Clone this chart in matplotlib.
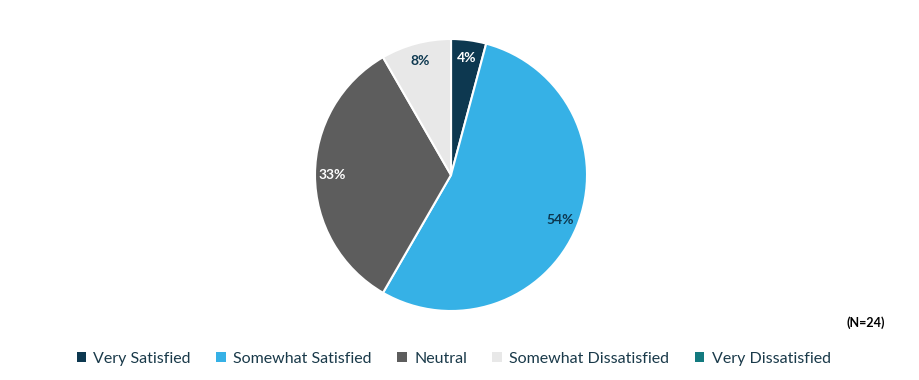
import matplotlib
matplotlib.use("Agg")
from matplotlib import pyplot as plt
from matplotlib.patches import Patch

plt.rcParams['font.family'] = ['Lato', 'DejaVu Sans']

# survey responses (N=24)
categories = ["Very Satisfied", "Somewhat Satisfied", "Neutral",
              "Somewhat Dissatisfied", "Very Dissatisfied"]
counts = [1, 13, 8, 2, 0]
colors = ["#0d3850", "#36b1e6", "#5d5d5d", "#e8e8e8", "#137a7f"]
label_colors = ["white", "#0d3850", "white", "#0d3850", "white"]
navy = "#1a3a4a"

fig = plt.figure(figsize=(9.2, 3.8), dpi=100)
ax = fig.add_axes([315 / 920, 69 / 380, 272 / 920, 272 / 380])


def pct(p):
    return "{:.0f}%".format(p) if p > 0 else ""


wedges, texts, autotexts = ax.pie(counts, colors=colors, startangle=90,
                                  counterclock=False, autopct=pct,
                                  pctdistance=0.87,
                                  wedgeprops=dict(edgecolor="white", linewidth=1.5))
for t, c in zip(autotexts, label_colors):
    t.set_color(c)
    t.set_fontsize(10)
    t.set_fontweight("bold")
ax.set_xlim(-1, 1)
ax.set_ylim(-1, 1)
ax.set_aspect("equal")

fig.text(0.962, 1 - 323 / 380, "(N=24)", ha="right", va="center",
         fontsize=9, fontweight="bold", color="black")

handles = [Patch(facecolor=c, edgecolor="none") for c in colors]
leg = fig.legend(handles, categories, loc="center", ncol=5,
                 bbox_to_anchor=(0.493, 1 - 359 / 380), frameon=False,
                 fontsize=11.5, handlelength=0.6, handleheight=0.6,
                 handletextpad=0.45, columnspacing=1.6)
for t in leg.get_texts():
    t.set_color(navy)

fig.savefig("out.png", dpi=100)
